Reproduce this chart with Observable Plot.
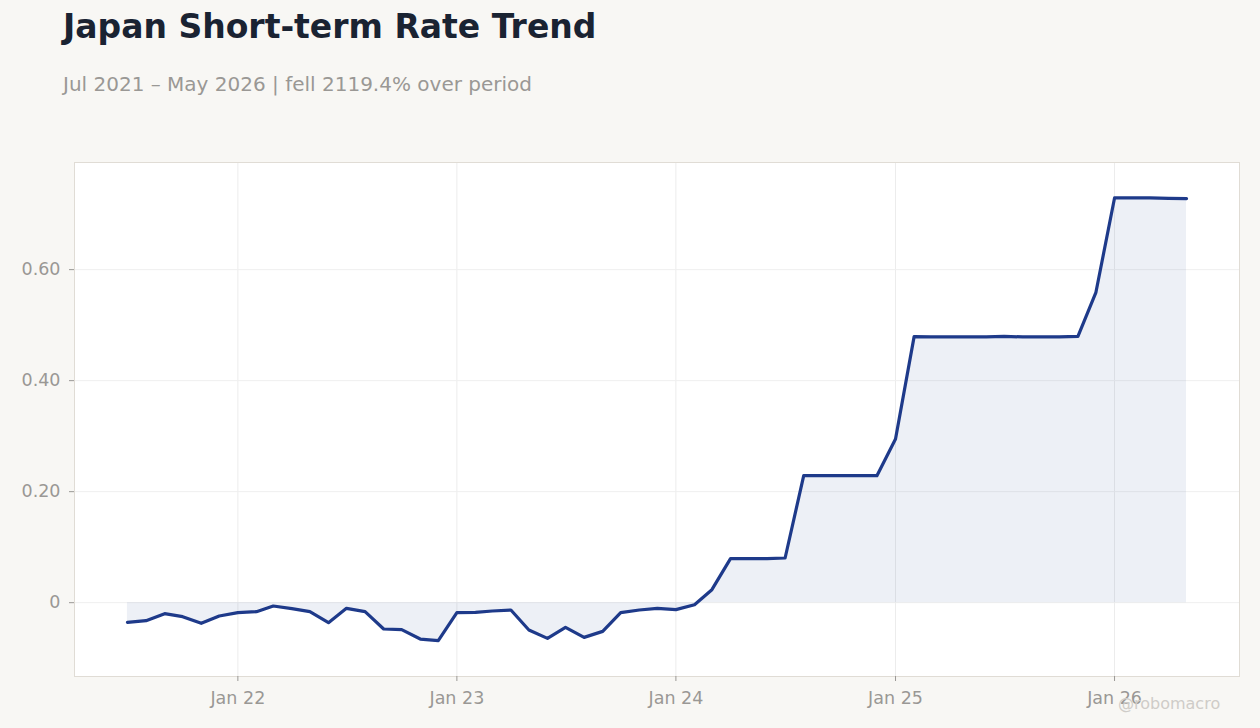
<!DOCTYPE html>
<html>
<head>
<meta charset="utf-8">
<script src="https://cdn.jsdelivr.net/npm/d3@7"></script>
<script src="https://cdn.jsdelivr.net/npm/@observablehq/plot@0.6"></script>
<style>
  html, body { margin: 0; padding: 0; background: #f8f7f4; }
  #wrap { position: relative; width: 1260px; height: 728px; overflow: hidden; font-family: "DejaVu Sans", sans-serif; }
  #title { position: absolute; left: 63px; top: 7px; font-size: 33px; font-weight: bold; color: #1a2332; white-space: nowrap; }
  #subtitle { position: absolute; left: 63px; top: 72px; font-size: 20px; color: #9a9895; white-space: nowrap; }
  #chart { position: absolute; left: 0; top: 0; }
  #credit { position: absolute; left: 1118px; top: 694px; font-size: 16px; color: #cfccc8; white-space: nowrap; }
</style>
</head>
<body>
<div id="wrap">
  <div id="chart"></div>
  <div id="title">Japan Short-term Rate Trend</div>
  <div id="subtitle">Jul 2021 – May 2026 | fell 2119.4% over period</div>
  <div id="credit">@robomacro</div>
</div>
<script>
const months = [
  "2021-07","2021-08","2021-09","2021-10","2021-11","2021-12",
  "2022-01","2022-02","2022-03","2022-04","2022-05","2022-06",
  "2022-07","2022-08","2022-09","2022-10","2022-11","2022-12",
  "2023-01","2023-02","2023-03","2023-04","2023-05","2023-06",
  "2023-07","2023-08","2023-09","2023-10","2023-11","2023-12",
  "2024-01","2024-02","2024-03","2024-04","2024-05","2024-06",
  "2024-07","2024-08","2024-09","2024-10","2024-11","2024-12",
  "2025-01","2025-02","2025-03","2025-04","2025-05","2025-06",
  "2025-07","2025-08","2025-09","2025-10","2025-11","2025-12",
  "2026-01","2026-02","2026-03","2026-04","2026-05"
];
const rates = [
  -0.0355, -0.0324, -0.0198, -0.0252, -0.0372, -0.0240,
  -0.0180, -0.0162, -0.0060, -0.0108, -0.0162, -0.0360,
  -0.0102, -0.0162, -0.0474, -0.0486, -0.0655, -0.0685,
  -0.0180, -0.0174, -0.0150, -0.0132, -0.0492, -0.0643,
  -0.0444, -0.0625, -0.0517, -0.0180, -0.0132, -0.0102,
  -0.0125, -0.0036, 0.0234, 0.0793, 0.0793, 0.0793,
  0.0805, 0.2288, 0.2288, 0.2288, 0.2288, 0.2288,
  0.2949, 0.4793, 0.4787, 0.4787, 0.4787, 0.4790,
  0.4799, 0.4787, 0.4787, 0.4787, 0.4799, 0.5592,
  0.7291, 0.7291, 0.7291, 0.7282, 0.7280
];
const yTicks = [0, 0.2, 0.4, 0.6];
const xTickLabels = ["2022-01", "2023-01", "2024-01", "2025-01", "2026-01"];

const parse = d3.utcParse("%Y-%m");
const data = months.map((m, i) => ({date: parse(m), value: rates[i]}));
const xTicks = xTickLabels.map(parse);

const x0 = data[0].date, x1 = data[data.length - 1].date;
const pad = (x1 - x0) * 0.05;
const xDomain = [new Date(+x0 - pad), new Date(+x1 + pad)];

const chart = Plot.plot({
  width: 1260,
  height: 728,
  marginLeft: 74,
  marginRight: 21,
  marginTop: 162,
  marginBottom: 52,
  style: {fontFamily: "DejaVu Sans, sans-serif", fontSize: "17.5px", background: "transparent", overflow: "visible"},
  x: {type: "utc", domain: xDomain},
  y: {domain: [-0.133, 0.793]},
  marks: [
    Plot.frame({fill: "#ffffff", stroke: "none"}),
    Plot.gridX(xTicks, {stroke: "#ececec", strokeOpacity: 1}),
    Plot.gridY(yTicks, {stroke: "#efefef", strokeOpacity: 1}),
    Plot.areaY(data, {x: "date", y1: 0, y2: "value", fill: "#1e3a8a", fillOpacity: 0.08}),
    Plot.lineY(data, {x: "date", y: "value", stroke: "#1e3a8a", strokeWidth: 3.2, strokeLinejoin: "round"}),
    Plot.frame({stroke: "#e0dcd5", strokeOpacity: 1}),
    Plot.axisX({ticks: xTicks, tickFormat: d3.utcFormat("%b %y"), tickSize: 5, tickPadding: 10, color: "#9a9895", label: null}),
    Plot.axisY({ticks: yTicks, tickFormat: d => d === 0 ? "0" : d.toFixed(2), tickSize: 5, tickPadding: 9, color: "#9a9895", label: null})
  ]
});
document.getElementById("chart").appendChild(chart);
</script>
</body>
</html>
